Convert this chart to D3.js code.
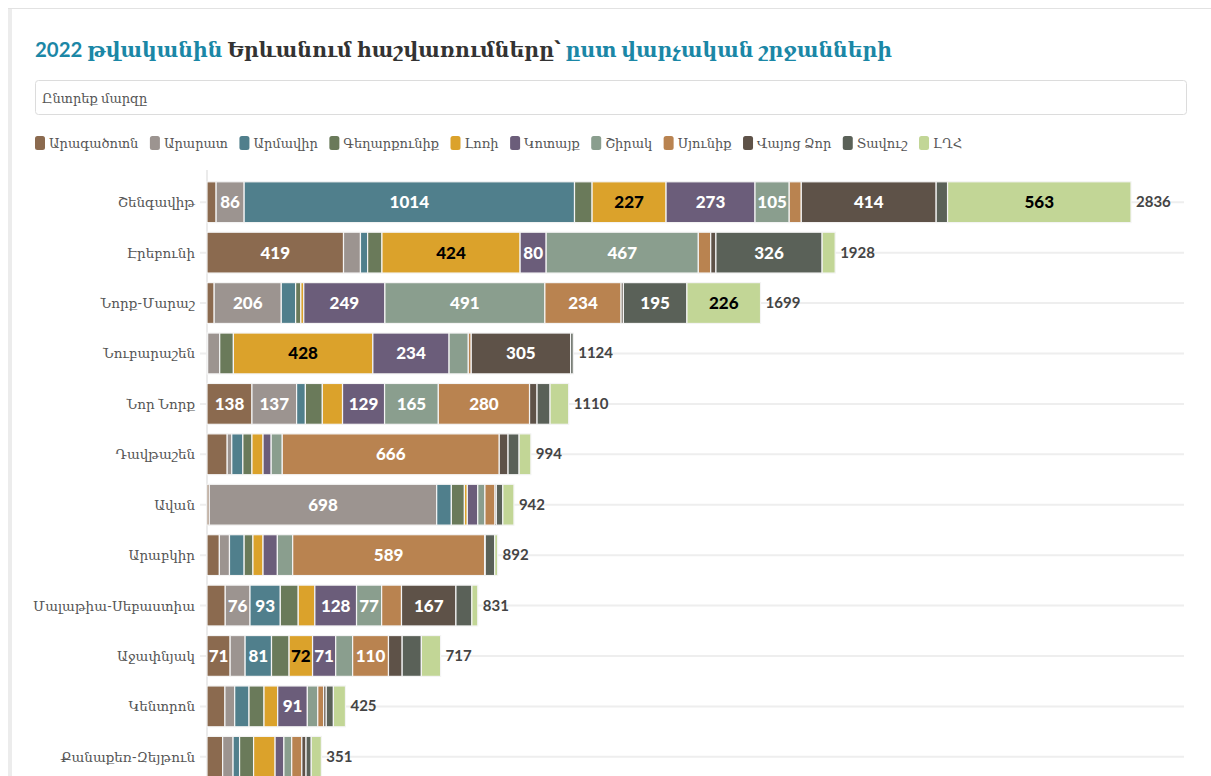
<!DOCTYPE html>
<html>
<head>
<meta charset="utf-8">
<script src="https://cdn.jsdelivr.net/npm/d3@7"></script>
<style>
  body { margin: 0; background: #fff; }
  svg { display: block; }
</style>
</head>
<body>
<svg id="chart" width="1211" height="776"></svg>
<script>
// Yerevan districts, top to bottom
const districts = ["Շենգավիթ", "Էրեբունի", "Նորք-Մարաշ", "Նուբարաշեն", "Նոր Նորք", "Դավթաշեն",
  "Ավան", "Արաբկիր", "Մալաթիա-Սեբաստիա", "Աջափնյակ", "Կենտրոն", "Քանաքեռ-Զեյթուն"];

// regions (series) and their colours
const regions = ["Արագածոտն", "Արարատ", "Արմավիր", "Գեղարքունիք", "Լոռի", "Կոտայք",
  "Շիրակ", "Սյունիք", "Վայոց Ձոր", "Տավուշ", "ԼՂՀ"];
const colors = ["#8b6a4f", "#9c9490", "#507f8c", "#6a7a5a", "#dba22b", "#6b5d7a",
  "#8a9e8e", "#b98350", "#5e5248", "#5a6158", "#c2d696"];

// values per region, in district order
const aragatsotn = [28, 419, 22, 2, 138, 62, 7, 38, 56, 71, 55, 48];
const ararat     = [86, 52, 206, 37, 137, 14, 698, 31, 76, 46, 30, 32];
const armavir    = [1014, 22, 44, 0, 27, 34, 45, 45, 93, 81, 44, 20];
const gegharkunik = [54, 44, 16, 42, 52, 28, 40, 27, 55, 54, 46, 43];
const lori       = [227, 424, 9, 428, 62, 34, 9, 31, 51, 72, 42, 66];
const kotayk     = [273, 80, 249, 234, 129, 25, 32, 44, 128, 71, 91, 27];
const shirak     = [105, 467, 491, 59, 165, 34, 22, 47, 77, 52, 32, 24];
const syunik     = [37, 38, 234, 9, 280, 666, 31, 589, 61, 110, 18, 31];
const vayotsDzor = [414, 16, 7, 305, 23, 27, 4, 2, 167, 42, 8, 13];
const tavush     = [35, 326, 195, 8, 40, 34, 20, 29, 49, 59, 22, 16];
const artsakh    = [563, 40, 226, 0, 57, 36, 34, 9, 18, 59, 37, 31];

const series = [aragatsotn, ararat, armavir, gegharkunik, lori, kotayk,
  shirak, syunik, vayotsDzor, tavush, artsakh];
const darkText = ["Լոռի", "ԼՂՀ"]; // light bars get black numbers

// build table rows for d3.stack
const rows = districts.map((d, i) => {
  const r = { district: d };
  regions.forEach((reg, j) => r[reg] = series[j][i]);
  r.total = d3.sum(series, s => s[i]);
  return r;
});

const svg = d3.select("#chart");
const armFont = "Lato, 'DejaVu Serif', serif";

// card border (top + left)
svg.append("rect").attr("x", 8).attr("y", 8).attr("width", 4).attr("height", 768).attr("fill", "#ececec");
svg.append("line").attr("x1", 8).attr("x2", 1211).attr("y1", 8.5).attr("y2", 8.5)
  .attr("stroke", "#e2e2e2").attr("stroke-width", 1);

// title
const title = svg.append("text")
  .attr("x", 35).attr("y", 57)
  .style("font-family", armFont)
  .style("font-weight", "bold")
  .style("font-size", "20.4px");
title.append("tspan").attr("fill", "#1b87a6").text("2022 թվականին ");
title.append("tspan").attr("fill", "#333").text("Երևանում հաշվառումները՝ ");
title.append("tspan").attr("fill", "#1b87a6").text("ըստ վարչական շրջանների");

// select box
svg.append("rect")
  .attr("x", 35.5).attr("y", 80.5).attr("width", 1151).attr("height", 34).attr("rx", 3)
  .attr("fill", "#fff").attr("stroke", "#dcdcdc");
svg.append("text")
  .attr("x", 42).attr("y", 103)
  .style("font-family", armFont).style("font-size", "13px").attr("fill", "#555")
  .text("Ընտրեք մարզը");

// legend
let lx = 35;
regions.forEach((reg, j) => {
  const g = svg.append("g").attr("transform", `translate(${lx},136)`);
  g.append("rect").attr("width", 10).attr("height", 14).attr("rx", 2.5).attr("fill", colors[j]);
  const t = g.append("text").attr("x", 14).attr("y", 12)
    .style("font-family", armFont).style("font-size", "13px").attr("fill", "#555").text(reg);
  lx += 14 + t.node().getComputedTextLength() + 11.5;
});

// scales
const x = d3.scaleLinear().domain([0, d3.max(rows, d => d.total)]).range([207, 1131]);
const y = d3.scaleBand().domain(districts).range([177, 782]).paddingInner(0.19).paddingOuter(0.095);
const color = d3.scaleOrdinal().domain(regions).range(colors);

// gridlines at row centres
svg.append("g").selectAll("line").data(districts).join("line")
  .attr("x1", 200).attr("x2", 1184)
  .attr("y1", d => y(d) + y.bandwidth() / 2).attr("y2", d => y(d) + y.bandwidth() / 2)
  .attr("stroke", "#eeeeee").attr("stroke-width", 2);

// axis line
svg.append("line").attr("x1", 207).attr("x2", 207).attr("y1", 170).attr("y2", 776)
  .attr("stroke", "#e4e4e4").attr("stroke-width", 1.5);

// category labels
svg.append("g").selectAll("text").data(districts).join("text")
  .attr("x", 195).attr("y", d => y(d) + y.bandwidth() / 2 + 5)
  .attr("text-anchor", "end")
  .style("font-family", armFont).style("font-size", "13.5px").attr("fill", "#555")
  .text(d => d);

// stacked bars
const stacked = d3.stack().keys(regions)(rows);
const layer = svg.append("g").selectAll("g").data(stacked).join("g")
  .attr("fill", d => color(d.key));

layer.selectAll("rect").data(d => d.map(v => ({ v, key: d.key }))).join("rect")
  .attr("x", d => x(d.v[0]))
  .attr("y", d => y(d.v.data.district))
  .attr("width", d => x(d.v[1]) - x(d.v[0]))
  .attr("height", y.bandwidth())
  .attr("stroke", "#f4f4f4").attr("stroke-width", 1.2);

// value labels inside bars
layer.selectAll("text").data(d => d.map(v => ({ v, key: d.key })).filter(d => d.v[1] - d.v[0] >= 70))
  .join("text")
  .attr("x", d => (x(d.v[0]) + x(d.v[1])) / 2)
  .attr("y", d => y(d.v.data.district) + y.bandwidth() / 2 + 6)
  .attr("text-anchor", "middle")
  .style("font-family", "Lato, sans-serif").style("font-weight", "900").style("font-size", "17px")
  .attr("fill", d => darkText.includes(d.key) ? "#000" : "#fff")
  .text(d => d.v[1] - d.v[0]);

// totals
svg.append("g").selectAll("text").data(rows).join("text")
  .attr("x", d => x(d.total) + 5)
  .attr("y", d => y(d.district) + y.bandwidth() / 2 + 5)
  .style("font-family", "Lato, sans-serif").style("font-weight", "bold").style("font-size", "15px")
  .attr("fill", "#444")
  .text(d => d.total);
</script>
</body>
</html>
